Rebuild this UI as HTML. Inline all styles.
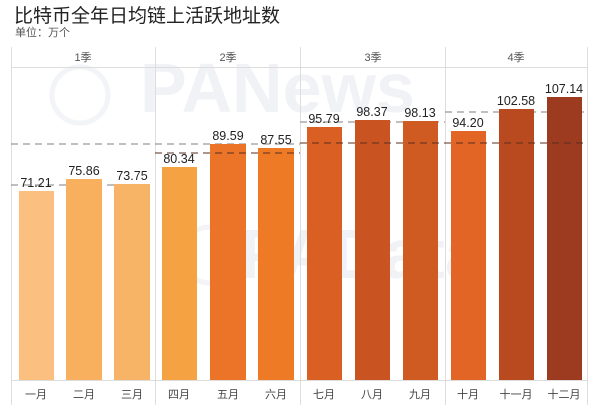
<!DOCTYPE html>
<html><head><meta charset="utf-8"><style>
body{margin:0;background:#fff;width:600px;height:412px;overflow:hidden;font-family:"Liberation Sans","Noto Sans CJK SC",sans-serif}
</style></head><body>
<svg width="600" height="412" xmlns="http://www.w3.org/2000/svg" font-family="Liberation Sans, Noto Sans CJK SC, sans-serif">
<text x="14" y="22" font-size="19" fill="#222">比特币全年日均链上活跃地址数</text>
<text x="15" y="36" font-size="11" fill="#555">单位：万个</text>
<!-- watermarks -->
<text x="140" y="112" font-size="70" font-weight="bold" fill="#f0f2f6">PANews</text>
<text x="240" y="278" font-size="70" font-weight="bold" fill="#f0f2f6">PAData</text>
<g fill="none" stroke="#f2f4f7" stroke-width="5"><circle cx="80" cy="95" r="28"/><circle cx="210" cy="255" r="28"/></g>
<!-- frame -->
<g stroke="#ddd" stroke-width="1">
<line x1="11.5" y1="47" x2="11.5" y2="405"/>
<line x1="155.5" y1="47" x2="155.5" y2="405"/>
<line x1="300.5" y1="47" x2="300.5" y2="405"/>
<line x1="445.5" y1="47" x2="445.5" y2="405"/>
<line x1="587.5" y1="47" x2="587.5" y2="405"/>
<line x1="11" y1="67.5" x2="588" y2="67.5"/>
<line x1="11" y1="380.5" x2="588" y2="380.5"/>
</g>
<g font-size="11" fill="#555" text-anchor="middle">
<text x="83" y="61">1季</text><text x="228" y="61">2季</text><text x="373" y="61">3季</text><text x="516" y="61">4季</text>
</g>
<!-- grey dashed behind -->
<g stroke="#999" stroke-width="1.3" stroke-dasharray="7,5" fill="none">
<line x1="11" y1="144" x2="300" y2="144"/>
<line x1="11" y1="185" x2="155" y2="185"/>
<line x1="300" y1="122" x2="445" y2="122"/>
<line x1="445" y1="112" x2="587" y2="112"/>
</g>
<!-- bars -->
<g>
<rect x="19" y="191" width="35" height="189" fill="#fbc07f"/>
<rect x="66" y="179" width="36" height="201" fill="#f8b05e"/>
<rect x="114" y="184" width="36" height="196" fill="#f8b466"/>
<rect x="162" y="167" width="35" height="213" fill="#f5a242"/>
<rect x="210" y="144" width="36" height="236" fill="#ec7428"/>
<rect x="258" y="148" width="36" height="232" fill="#ee7a26"/>
<rect x="307" y="127" width="35" height="253" fill="#d95f22"/>
<rect x="355" y="120" width="35" height="260" fill="#c95422"/>
<rect x="403" y="121" width="35" height="259" fill="#cf5a22"/>
<rect x="451" y="131" width="35" height="249" fill="#e36525"/>
<rect x="499" y="109" width="35" height="271" fill="#b9491f"/>
<rect x="547" y="97" width="35" height="283" fill="#9c3b20"/>
</g>
<!-- dark dashed on top -->
<g stroke="#5a3020" stroke-width="1.3" stroke-dasharray="7,5" fill="none" opacity="0.8">
<line x1="155" y1="153" x2="300" y2="153"/>
<line x1="300" y1="143" x2="587" y2="143"/>
</g>
<g font-size="12.5" fill="#222" text-anchor="middle">
<text x="36" y="187">71.21</text><text x="84" y="175">75.86</text><text x="132" y="180">73.75</text>
<text x="179" y="163">80.34</text><text x="228" y="140">89.59</text><text x="276" y="144">87.55</text>
<text x="324" y="123">95.79</text><text x="372" y="116">98.37</text><text x="420" y="117">98.13</text>
<text x="468" y="127">94.20</text><text x="516" y="105">102.58</text><text x="564" y="93">107.14</text>
</g>
<g font-size="11" fill="#444" text-anchor="middle">
<text x="36" y="398">一月</text><text x="84" y="398">二月</text><text x="132" y="398">三月</text>
<text x="179" y="398">四月</text><text x="228" y="398">五月</text><text x="276" y="398">六月</text>
<text x="324" y="398">七月</text><text x="372" y="398">八月</text><text x="420" y="398">九月</text>
<text x="468" y="398">十月</text><text x="516" y="398">十一月</text><text x="564" y="398">十二月</text>
</g>
</svg>
</body></html>
